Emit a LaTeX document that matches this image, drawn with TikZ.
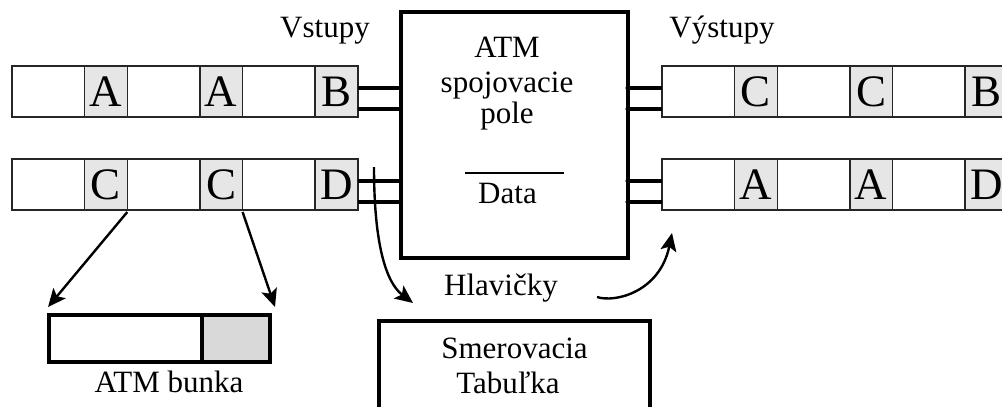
\documentclass[tikz,border=0pt]{standalone}
\usepackage{fontspec}
\setmainfont{Liberation Serif}
\usetikzlibrary{arrows.meta,calc}
\definecolor{cellgray}{HTML}{E6E6E6}
\definecolor{bunkagray}{HTML}{D9D9D9}
\begin{document}
\begin{tikzpicture}[x=1pt,y=-1pt,
  cellw/.style={draw=black!85, line width=1.5pt, fill=white, minimum width=72.5pt, minimum height=51pt,
    inner sep=0pt, outer sep=0pt, anchor=north west, font=\fontsize{45}{45}\selectfont},
  cellg/.style={cellw, fill=cellgray, minimum width=42.8pt},
  thickbox/.style={draw=black, line width=3.6pt, inner sep=0pt, outer sep=0pt, anchor=north west},
  lbl/.style={inner sep=0pt, anchor=base, font=\fontsize{31}{31}\selectfont},
  conn/.style={line width=3.6pt},
  arr/.style={line width=2.4pt, -{Stealth[length=18pt,width=16pt,inset=4pt]}}
]
\useasboundingbox (0,0) rectangle (1002,407);

% left input rows
\node[cellw] (L1a) at (12,66) {};
\node[cellg] (L1b) at (L1a.north east) {A};
\node[cellw] (L1c) at (L1b.north east) {};
\node[cellg] (L1d) at (L1c.north east) {A};
\node[cellw] (L1e) at (L1d.north east) {};
\node[cellg] (L1f) at (L1e.north east) {B};

\node[cellw] (L2a) at (12,159) {};
\node[cellg] (L2b) at (L2a.north east) {C};
\node[cellw] (L2c) at (L2b.north east) {};
\node[cellg] (L2d) at (L2c.north east) {C};
\node[cellw] (L2e) at (L2d.north east) {};
\node[cellg] (L2f) at (L2e.north east) {D};

% right output rows
\node[cellw] (R1a) at (662,66) {};
\node[cellg] (R1b) at (R1a.north east) {C};
\node[cellw] (R1c) at (R1b.north east) {};
\node[cellg] (R1d) at (R1c.north east) {C};
\node[cellw] (R1e) at (R1d.north east) {};
\node[cellg] (R1f) at (R1e.north east) {B};

\node[cellw] (R2a) at (662,159) {};
\node[cellg] (R2b) at (R2a.north east) {A};
\node[cellw] (R2c) at (R2b.north east) {};
\node[cellg] (R2d) at (R2c.north east) {A};
\node[cellw] (R2e) at (R2d.north east) {};
\node[cellg] (R2f) at (R2e.north east) {D};

% switching fabric
\node[thickbox, minimum width=227pt, minimum height=246pt] (sw) at (401,12) {};
\node[lbl] (t1) at (507,57) {ATM};
\node[lbl] (t2) at (507,92) {spojovacie};
\node[lbl] (t3) at (507,123) {pole};
\draw[line width=1.4pt] (465,173) -- (564,173);
\node[lbl] (t4) at (507.5,203) {Data};

% labels
\node[lbl] (vin) at (325,37) {Vstupy};
\node[lbl] (vout) at (722,37) {Výstupy};
\node[lbl] (hl) at (501,295) {Hlavičky};

% connectors left
\coordinate (a1) at ([yshift=3.5pt]L1f.east);
\coordinate (a2) at ([yshift=-17.5pt]L1f.east);
\coordinate (a3) at ([yshift=3.5pt]L2f.east);
\coordinate (a4) at ([yshift=-17.5pt]L2f.east);
\foreach \p in {a1,a2,a3,a4}{\draw[conn] (\p) -- (\p -| sw.west);}

% connectors right
\coordinate (b1) at ([yshift=3.5pt]R1a.west);
\coordinate (b2) at ([yshift=-17.5pt]R1a.west);
\coordinate (b3) at ([yshift=3.5pt]R2a.west);
\coordinate (b4) at ([yshift=-17.5pt]R2a.west);
\foreach \p in {b1,b2,b3,b4}{\draw[conn] (\p -| sw.east) -- (\p); \fill (\p -| sw.east) circle (2.6pt);}

% routing table
\node[thickbox, minimum width=271pt, minimum height=110pt] (tab) at (379,321) {};
\node[lbl] (s1) at (514.5,358) {Smerovacia};
\node[lbl] (s2) at (508,393) {Tabuľka};

% ATM cell
\node[thickbox, fill=white, minimum width=153pt, minimum height=47pt] (bw) at (49,315) {};
\node[thickbox, fill=bunkagray, minimum width=68pt, minimum height=47pt] (bg) at (bw.north east) {};
\node[lbl] (bl) at (169,392) {ATM bunka};

\draw[arr] ([yshift=-2pt]L2b.south east) -- ([shift={(-1pt,8pt)}]bw.north west);
\draw[arr] ([yshift=-2pt]L2d.south east) -- ([shift={(5pt,8pt)}]bg.north east);

% header routing arrows
\coordinate (hs) at (374,167);
\coordinate (ht) at (413,303);
\draw[arr] (hs) .. controls (374,262) and (392,287) .. (ht);
\coordinate (rs) at (597,297);
\coordinate (rt) at (672,233);
\draw[arr] (rs) .. controls (615,303) and (660,292) .. (rt);
\end{tikzpicture}
\end{document}
